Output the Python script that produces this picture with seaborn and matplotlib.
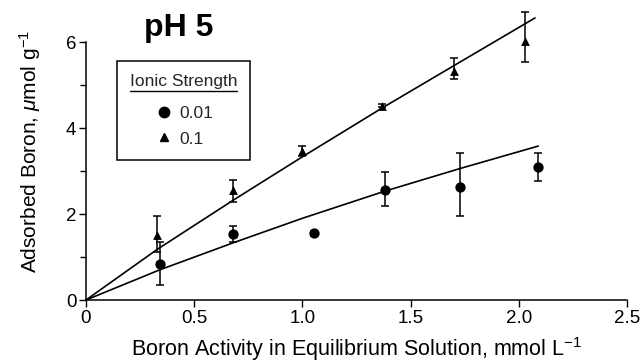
import numpy as np
import matplotlib
matplotlib.use("Agg")
import matplotlib.pyplot as plt
from matplotlib.lines import Line2D
import seaborn as sns

# ── data ──────────────────────────────────────────────────
x_low = [0.34, 0.68, 1.055, 1.38, 1.73, 2.09]
y_low = [0.84, 1.53, 1.55, 2.56, 2.63, 3.09]
err_low_lo = [0.49, 0.17, 0.06, 0.38, 0.68, 0.33]
err_low_hi = [0.50, 0.18, 0.06, 0.41, 0.80, 0.32]

x_high = [0.33, 0.68, 1.0, 1.37, 1.70, 2.03]
y_high = [1.52, 2.55, 3.46, 4.52, 5.33, 6.02]
err_high_lo = [0.40, 0.26, 0.10, 0.04, 0.19, 0.48]
err_high_hi = [0.43, 0.25, 0.12, 0.04, 0.29, 0.68]

fit_low_x = [0, 0.34, 0.68, 1.0, 1.38, 1.73, 2.09]
fit_low_y = [0, 0.70, 1.33, 1.90, 2.53, 3.06, 3.58]
fit_high_x = [0, 0.33, 0.68, 1.0, 1.37, 1.70, 2.075]
fit_high_y = [0, 1.18, 2.32, 3.33, 4.47, 5.45, 6.56]

xticks = [0, 0.5, 1.0, 1.5, 2.0, 2.5]
xticklabels = ["0", "0.5", "1.0", "1.5", "2.0", "2.5"]
yticks = [0, 2, 4, 6]

# ── style ─────────────────────────────────────────────────
sns.set_theme(style="ticks")
plt.rcParams['font.family'] = ['Liberation Sans', 'DejaVu Sans']
plt.rcParams['mathtext.fontset'] = 'custom'
plt.rcParams['mathtext.rm'] = 'Liberation Sans'
plt.rcParams['mathtext.it'] = 'Liberation Sans:italic'

fig = plt.figure(figsize=(6.44, 3.64), dpi=100)
ax = fig.add_axes([0.1335, 0.1758, 0.8401, 0.7088])

sns.lineplot(x=fit_low_x, y=fit_low_y, ax=ax, color='black', lw=1.2, clip_on=False)
sns.lineplot(x=fit_high_x, y=fit_high_y, ax=ax, color='black', lw=1.2, clip_on=False)

ax.errorbar(x_low, y_low, yerr=[err_low_lo, err_low_hi], fmt='none', ecolor='black',
            elinewidth=1.1, capsize=3, capthick=1.1, clip_on=False)
ax.errorbar(x_high, y_high, yerr=[err_high_lo, err_high_hi], fmt='none', ecolor='black',
            elinewidth=1.1, capsize=3, capthick=1.1, clip_on=False)

sns.scatterplot(x=x_low, y=y_low, ax=ax, marker='o', s=55, color='black',
                edgecolor='black', linewidth=0, clip_on=False, zorder=5)
sns.scatterplot(x=x_high, y=y_high, ax=ax, marker='^', s=40, color='black',
                edgecolor='black', linewidth=0, clip_on=False, zorder=5)

ax.set_xlim(0, 2.5)
ax.set_ylim(0, 6)
ax.set_xticks(xticks)
ax.set_xticklabels(xticklabels)
ax.set_yticks(yticks)
ax.set_yticks([1, 3, 5], minor=True)
ax.tick_params(axis='both', which='major', direction='out', length=5, width=1,
               labelsize=13.5, color='black', labelcolor='black', pad=2)
ax.tick_params(axis='y', which='minor', direction='out', length=4, width=1, color='black')
sns.despine(ax=ax)
for s in ['left', 'bottom']:
    ax.spines[s].set_color('black')
    ax.spines[s].set_linewidth(1.1)

ax.set_xlabel('Boron Activity in Equilibrium Solution, mmol L$^{-1}$', fontsize=15.5,
              color='black', labelpad=6)
ax.set_ylabel('Adsorbed Boron, $\\mu$mol g$^{-1}$', fontsize=15, color='black')
ax.yaxis.set_label_coords(-0.08, 0.575)

ax.text(0.43, 6.13, 'pH 5', fontsize=23, fontweight='bold', ha='center', va='baseline',
        color='black')

handles = [Line2D([], [], marker='o', ls='none', color='black', ms=7.5),
           Line2D([], [], marker='^', ls='none', color='black', ms=6)]
leg = ax.legend(handles, ['0.01', '0.1'], title='Ionic Strength', loc='upper left',
                bbox_to_anchor=(0.057, 0.926), borderaxespad=0, fancybox=False,
                fontsize=12.5, title_fontsize=12.5, handletextpad=0.3, labelspacing=0.6,
                borderpad=0.75, handlelength=1.2)
leg.get_frame().set_edgecolor('black')
leg.get_frame().set_linewidth(1.1)
leg.get_frame().set_alpha(1)
leg._legend_box.align = "center"
leg._legend_box.sep = 12

# underline the legend title
fig.canvas.draw()
bb = leg.get_title().get_window_extent().transformed(fig.transFigure.inverted())
fig.add_artist(Line2D([bb.x0, bb.x1], [bb.y0 - 0.004, bb.y0 - 0.004],
                      color='black', lw=1, transform=fig.transFigure))

fig.savefig('out.png', dpi=100)
